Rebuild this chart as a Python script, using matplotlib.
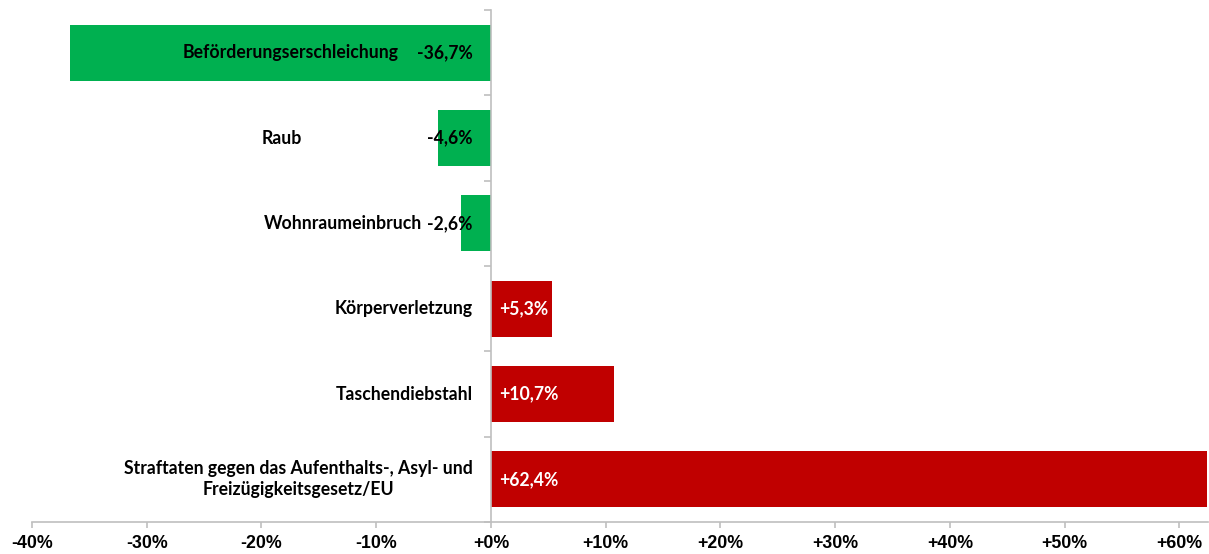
import matplotlib
matplotlib.use("Agg")
import matplotlib.pyplot as plt

categories = [
    "Beförderungserschleichung",
    "Raub",
    "Wohnraumeinbruch",
    "Körperverletzung",
    "Taschendiebstahl",
    "Straftaten gegen das Aufenthalts-, Asyl- und\nFreizügigkeitsgesetz/EU",
]
values = [-36.7, -4.6, -2.6, 5.3, 10.7, 62.4]
value_labels = ["-36,7%", "-4,6%", "-2,6%", "+5,3%", "+10,7%", "+62,4%"]
xticks = [-40, -30, -20, -10, 0, 10, 20, 30, 40, 50, 60]
xtick_labels = ["-40%", "-30%", "-20%", "-10%", "+0%", "+10%", "+20%",
                "+30%", "+40%", "+50%", "+60%"]

# horizontal gap (pixels) between category name end and value label start for negative rows
name_gaps = [18, 125, 5]

GREEN = "#00B050"
RED = "#C00000"
GRAY = "#BFBFBF"
LBL_FONT = "Lato"
LBL_SIZE = 12.7

fig = plt.figure(figsize=(12.09, 5.54), dpi=100)
ax = fig.add_axes([32 / 1209, 1 - 522 / 554, (1208 - 32) / 1209, (522 - 10) / 554])

n = len(categories)
ys = [n - 1 - i for i in range(n)]
colors = [GREEN if v < 0 else RED for v in values]
ax.barh(ys, values, height=0.66, color=colors, zorder=2)

ax.set_xlim(-40, 62.5)
ax.set_ylim(-0.5, n - 0.5)

for s in ["top", "right"]:
    ax.spines[s].set_visible(False)
ax.spines["bottom"].set_color(GRAY)
ax.spines["bottom"].set_linewidth(1.2)
ax.spines["left"].set_position(("data", 0))
ax.spines["left"].set_color(GRAY)
ax.spines["left"].set_linewidth(1.2)
ax.spines["left"].set_zorder(3)

ax.set_xticks(xticks)
ax.set_xticklabels(xtick_labels, fontfamily="Liberation Sans", fontweight="bold", fontsize=12.8)
ax.tick_params(axis="x", direction="out", length=4, width=1.2, color=GRAY, pad=5)

ax.set_yticks([k - 0.5 for k in range(n + 1)])
ax.set_yticklabels([])
ax.tick_params(axis="y", direction="out", length=5, width=1.2, color=GRAY)

label_x = -1.6
gi = 0
for y, v, name, lab in zip(ys, values, categories, value_labels):
    if v < 0:
        t = ax.text(label_x, y, lab, ha="right", va="center", fontfamily=LBL_FONT,
                    fontweight="bold", fontsize=LBL_SIZE, color="black", zorder=4)
        fig.canvas.draw()
        bb = t.get_window_extent()
        x_disp = bb.x0 - name_gaps[gi]
        gi += 1
        xd = ax.transData.inverted().transform((x_disp, 0))[0]
        ax.text(xd, y, name, ha="right", va="center", fontfamily=LBL_FONT,
                fontweight="bold", fontsize=LBL_SIZE, color="black", zorder=4)
    else:
        ax.text(label_x, y, name, ha="right", va="center", fontfamily=LBL_FONT,
                fontweight="bold", fontsize=LBL_SIZE, color="black", zorder=4,
                multialignment="center" if "\n" in name else "right", linespacing=1.3)
        ax.annotate(lab, xy=(0, y), xytext=(6, 0), textcoords="offset points",
                    ha="left", va="center", fontfamily=LBL_FONT, fontweight="bold",
                    fontsize=LBL_SIZE, color="white", zorder=4)

fig.savefig("out.png", dpi=100)
